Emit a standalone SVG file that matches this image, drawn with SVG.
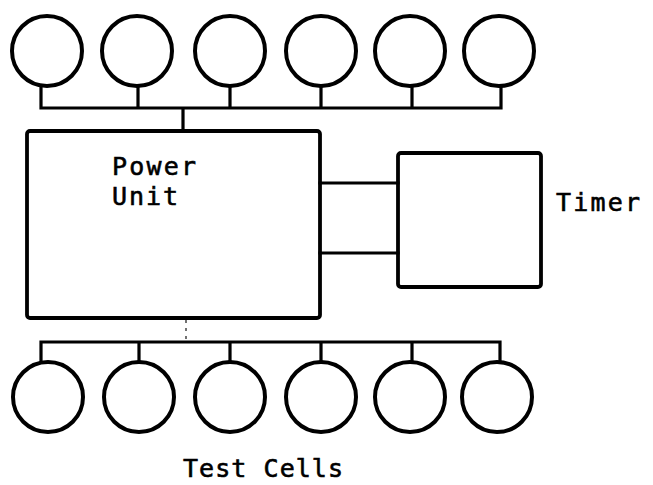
<svg xmlns="http://www.w3.org/2000/svg" width="653" height="485" viewBox="0 0 653 485">
<style>
.cell{fill:none;stroke:#000;stroke-width:4}
.box{fill:none;stroke:#000;stroke-width:3.8;stroke-linejoin:round}
.wire{fill:none;stroke:#000;stroke-width:3.2;stroke-linecap:square}
.faint{fill:none;stroke:#444;stroke-width:1.5;stroke-dasharray:3 5}
.lbl{font-family:"DejaVu Sans Mono","Liberation Mono",monospace;font-size:25px;fill:#000;stroke:#000;stroke-width:0.6}
</style>
<rect width="653" height="485" fill="#fff"/>
<g id="connectors">
<path class="wire" d="M41,86 V108 H501 V86 M138,86 V108 M230,86 V108 M321,86 V108 M412,86 V108 M183,108 V131"/>
<path class="wire" d="M320,183 H398 M320,253 H398"/>
<path class="wire" d="M41,362 V342 H500 V362 M139,342 V362 M230,342 V362 M321,342 V362 M412,342 V362"/>
<path class="faint" d="M186,320 V340"/>
</g>
<g id="top-cells">
<circle class="cell" cx="47" cy="51" r="35"/>
<circle class="cell" cx="137" cy="51" r="35"/>
<circle class="cell" cx="230" cy="51" r="35"/>
<circle class="cell" cx="321" cy="51" r="35"/>
<circle class="cell" cx="410" cy="51" r="35"/>
<circle class="cell" cx="499" cy="51" r="35"/>
</g>
<g id="power-unit">
<rect class="box" x="27" y="131" width="293" height="187" rx="3"/>
<text class="lbl" x="112" y="175" textLength="84" lengthAdjust="spacing">Power</text>
<text class="lbl" x="112" y="205" textLength="66" lengthAdjust="spacing">Unit</text>
</g>
<g id="timer">
<rect class="box" x="398" y="153" width="143" height="134" rx="3"/>
<text class="lbl" x="556" y="211" textLength="84" lengthAdjust="spacing">Timer</text>
</g>
<g id="bottom-cells">
<circle class="cell" cx="48" cy="397" r="35"/>
<circle class="cell" cx="139" cy="397" r="35"/>
<circle class="cell" cx="230" cy="397" r="35"/>
<circle class="cell" cx="321" cy="397" r="35"/>
<circle class="cell" cx="410" cy="397" r="35"/>
<circle class="cell" cx="497" cy="397" r="35"/>
<text class="lbl" x="183" y="477" textLength="160" lengthAdjust="spacing">Test Cells</text>
</g>
</svg>
